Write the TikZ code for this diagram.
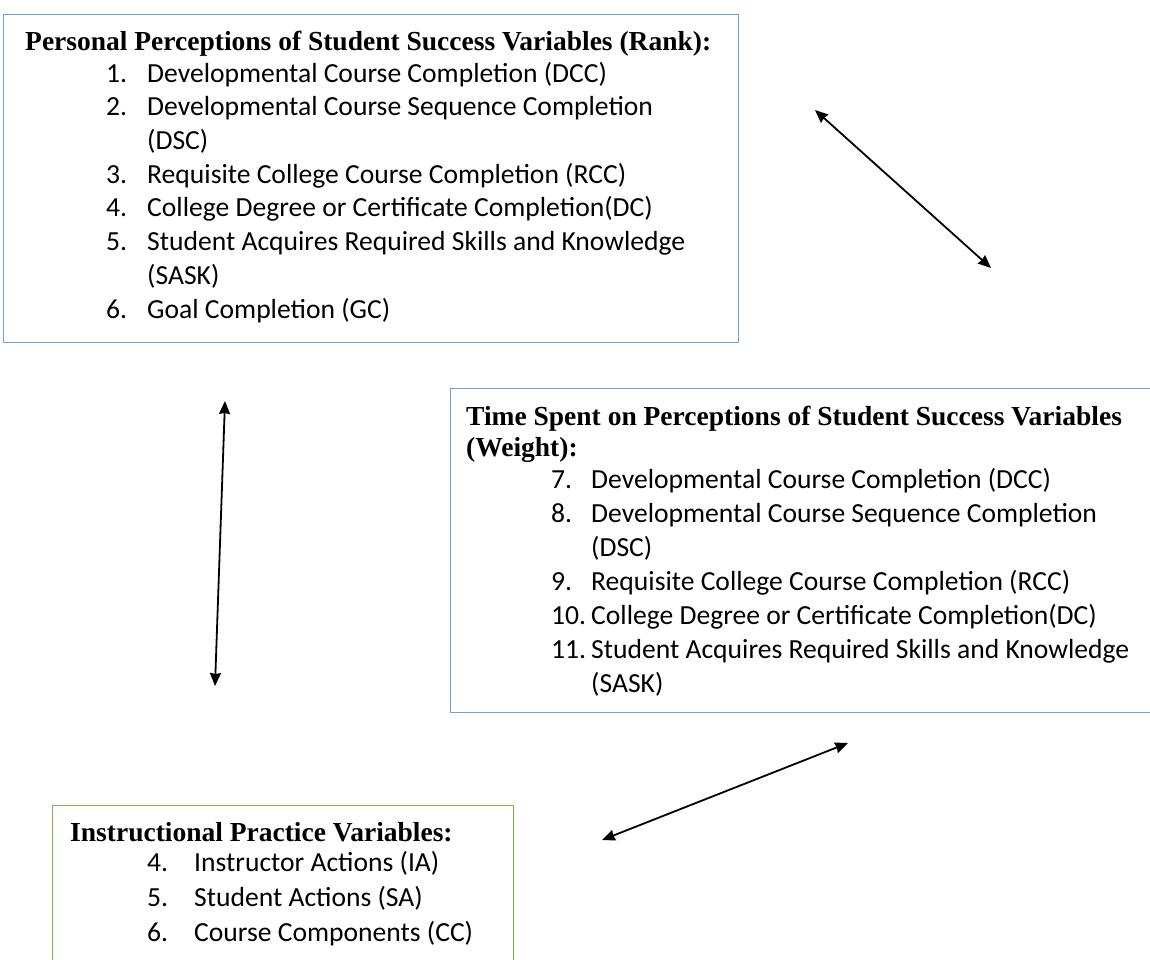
\documentclass[tikz,border=0pt]{standalone}
\usepackage{fontspec}
\usetikzlibrary{arrows.meta}
\newfontfamily\itemfont{Carlito}
\newfontfamily\headfont{Liberation Serif}
\definecolor{rankblue}{HTML}{6FA0DC}
\definecolor{practgreen}{HTML}{7AB648}
\tikzset{
  varbox/.style={draw=#1, line width=1.2pt, inner sep=0pt, anchor=north west},
  headtext/.style={anchor=base west, inner sep=0pt, font=\headfont\bfseries\fontsize{27.5}{31}\selectfont},
  itemtext/.style={anchor=base west, inner sep=0pt, font=\itemfont\fontsize{27.6}{33}\selectfont}
}
\begin{document}
\begin{tikzpicture}[x=1pt, y=-1pt, line join=round, line cap=round, >={Stealth[length=13pt,width=11pt,inset=1pt]}]
  \useasboundingbox (0,0) rectangle (1150,959);
  \fill[white] (0,0) rectangle (1150,959);

  % boxes
  \node[varbox=rankblue, minimum width=735pt, minimum height=328pt] (rankbox) at (3,14) {};
  \node[varbox=rankblue, minimum width=760pt, minimum height=324pt] (weightbox) at (450,388) {};
  \node[varbox=practgreen, minimum width=461pt, minimum height=200pt] (practbox) at (52,805) {};

  % rank list
  \node[headtext] (rankhead) at (25,50) {Personal Perceptions of Student Success Variables (Rank):};
  \foreach \y/\num/\txt [count=\i] in {82/1./Developmental Course Completion (DCC),
      115.7/2./Developmental Course Sequence Completion, 149.4//(DSC),
      183/3./Requisite College Course Completion (RCC),
      216.8/4./College Degree or Certificate Completion(DC),
      250.5/5./Student Acquires Required Skills and Knowledge, 284//(SASK),
      318/6./Goal Completion (GC)} {
    \node[itemtext] (ranknum-\i) at (106,\y) {\num};
    \node[itemtext] (rankitem-\i) at (147,\y) {\txt};
  }

  % weight list
  \node[headtext] (weighthead) at (466,425) {Time Spent on Perceptions of Student Success Variables};
  \node[headtext] (weighthead-2) at (466,456) {(Weight):};
  \foreach \y/\num/\txt [count=\i] in {488/7./Developmental Course Completion (DCC),
      522/8./Developmental Course Sequence Completion, 556//(DSC),
      590/9./Requisite College Course Completion (RCC),
      624/10./College Degree or Certificate Completion(DC),
      658/11./Student Acquires Required Skills and Knowledge, 692//(SASK)} {
    \node[itemtext] (weightnum-\i) at (551,\y) {\num};
    \node[itemtext] (weightitem-\i) at (591,\y) {\txt};
  }

  % practice list
  \node[headtext] (practhead) at (70,841) {Instructional Practice Variables:};
  \foreach \y/\num/\txt [count=\i] in {871/4./Instructor Actions (IA),
      906/5./Student Actions (SA), 941/6./Course Components (CC)} {
    \node[itemtext] (practnum-\i) at (147,\y) {\num};
    \node[itemtext] (practitem-\i) at (194,\y) {\txt};
  }

  % arrows
  \coordinate (a1) at (815,110);
  \coordinate (b1) at (991,268);
  \coordinate (a2) at (225,401);
  \coordinate (b2) at (215,686);
  \coordinate (a3) at (848,743);
  \coordinate (b3) at (602,840);
  \draw[<->, line width=1.8pt] (a1) -- (b1);
  \draw[<->, line width=1.8pt] (a2) -- (b2);
  \draw[<->, line width=1.8pt] (a3) -- (b3);
\end{tikzpicture}
\end{document}
